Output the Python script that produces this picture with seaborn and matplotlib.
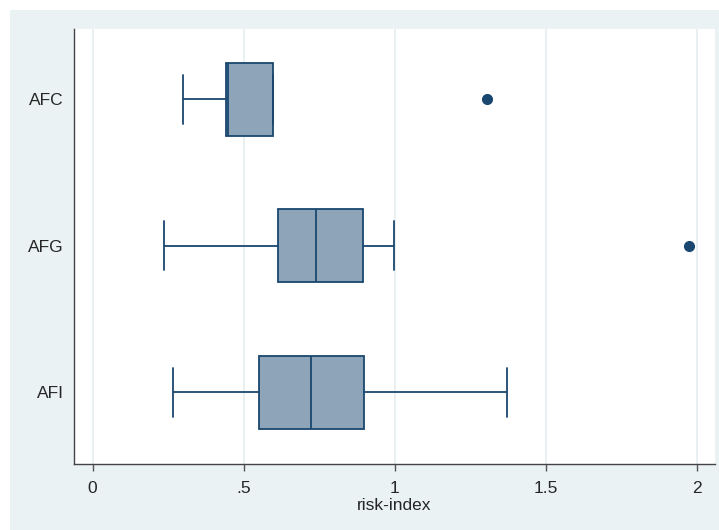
import matplotlib
matplotlib.use("Agg")
import matplotlib.pyplot as plt
import seaborn as sns
import numpy as np
import pandas as pd
from matplotlib.patches import Rectangle

groups = ["AFC", "AFG", "AFI"]
afc = [0.299, 0.40, 0.442, 0.445, 0.449, 0.55, 0.598, 0.598, 1.307]
afg = [0.236, 0.45, 0.613, 0.70, 0.741, 0.80, 0.895, 0.998, 1.976]
afi = [0.265, 0.45, 0.551, 0.65, 0.723, 0.80, 0.898, 1.10, 1.373]
xticks = [0, 0.5, 1, 1.5, 2]
xtick_labels = ["0", ".5", "1", "1.5", "2"]

df = pd.DataFrame({
    "group": np.repeat(groups, [len(afc), len(afg), len(afi)]),
    "risk": afc + afg + afi,
})

sns.set_style("white")
plt.rcParams["font.family"] = ["Liberation Sans", "DejaVu Sans"]

navy = "#1a476f"
box_fill = "#8EA4B9"
bg = "#EAF2F3"

fig = plt.figure(figsize=(7.19, 5.30), dpi=100, facecolor=bg)
# thin white band along the top and left edges
fig.patches.append(Rectangle((0, 1 - 10 / 530), 1, 10 / 530, transform=fig.transFigure,
                             facecolor="white", edgecolor="none", zorder=-10))
fig.patches.append(Rectangle((0, 0), 10 / 719, 1, transform=fig.transFigure,
                             facecolor="white", edgecolor="none", zorder=-10))
ax = fig.add_axes([73.5 / 719, 66 / 530, (715 - 73.5) / 719, (464 - 29) / 530])
ax.set_facecolor("white")

sns.boxplot(data=df, x="risk", y="group", order=groups, orient="h", ax=ax,
            width=0.5, color=box_fill, saturation=1, linecolor=navy, linewidth=1.3,
            whis=1.5,
            flierprops=dict(marker="o", markersize=7, markerfacecolor=navy,
                            markeredgecolor=navy))

# wider whisker caps like the original (caps are the short vertical lines)
for ln in ax.lines:
    y = np.asarray(ln.get_ydata(), dtype=float)
    x = np.asarray(ln.get_xdata(), dtype=float)
    if len(x) == 2 and x[0] == x[1] and 0 < abs(y[1] - y[0]) < 0.4:
        c = (y[0] + y[1]) / 2
        ln.set_ydata([c - 0.167, c + 0.167])

ax.set_xlim(-0.063, 2.061)
ax.set_ylim(2.49, -0.48)
ax.set_xticks(xticks)
ax.set_xticklabels(xtick_labels)
ax.grid(axis="x", color="#E6EEF0", linewidth=1.2)
ax.set_axisbelow(True)
ax.tick_params(axis="x", direction="out", length=5, width=1, color="#555555",
               labelsize=12.5, pad=7, bottom=True)
ax.tick_params(axis="y", length=0, labelsize=12.5, pad=7)
ax.set_xlabel("risk-index", fontsize=12.5, labelpad=2)
ax.set_ylabel("")

for s in ["top", "right"]:
    ax.spines[s].set_visible(False)
for s in ["left", "bottom"]:
    ax.spines[s].set_color("#444444")
    ax.spines[s].set_linewidth(1)

fig.savefig("out.png", dpi=100, facecolor=bg)
